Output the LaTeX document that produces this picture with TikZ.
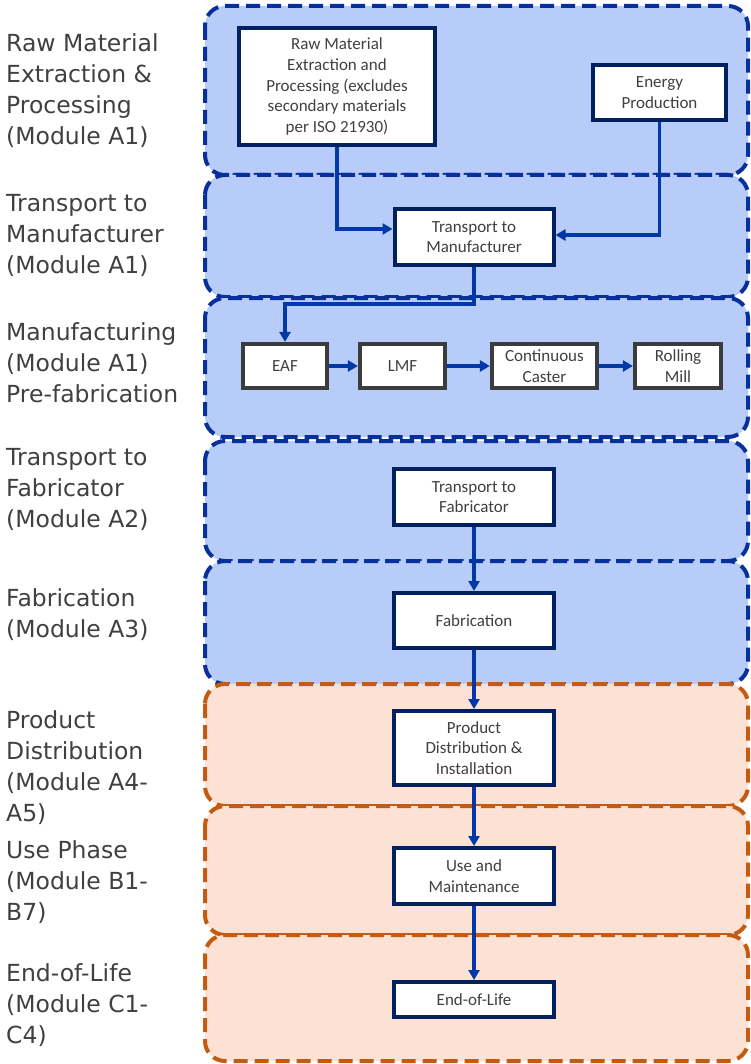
\documentclass[tikz,border=0pt]{standalone}
\usepackage{fontspec}
\usetikzlibrary{arrows.meta}
\newfontfamily\lblfont{DejaVu Sans}
\newfontfamily\bxfont{Carlito}
\definecolor{bandblue}{RGB}{184,204,250}
\definecolor{bandblueline}{RGB}{8,48,156}
\definecolor{bandorange}{RGB}{251,226,212}
\definecolor{bandorangeline}{RGB}{197,90,17}
\definecolor{navy}{RGB}{0,32,96}
\definecolor{boxgray}{RGB}{60,60,60}
\definecolor{arrowblue}{RGB}{0,56,168}
\definecolor{txtgray}{RGB}{64,64,64}
\begin{document}
\begin{tikzpicture}[x=1pt,y=-1pt,
  bandA/.style={fill=bandblue, draw=bandblueline, line width=4pt, dash pattern=on 14pt off 7pt, rounded corners=20pt},
  bandB/.style={fill=bandorange, draw=bandorangeline, line width=4pt, dash pattern=on 14pt off 7pt, rounded corners=20pt},
  stage/.style={draw=navy, fill=white, line width=4pt, font=\bxfont\fontsize{17}{20.7}\selectfont, text=txtgray, align=center, inner sep=0pt},
  mbox/.style={stage, draw=boxgray, line width=4.2pt},
  flow/.style={draw=arrowblue, line width=3.2pt, -{Triangle[length=10pt,width=11pt]}},
  lbl/.style={anchor=north west, inner sep=0pt, align=left, font=\lblfont\fontsize{23.5}{31.3}\selectfont, text=txtgray}]
\useasboundingbox (0,0) rectangle (751,1064);
\fill[white] (0,0) rectangle (751,1064);
% bands
\draw[bandA] (205,6) rectangle (748,175);
\draw[bandA] (205,175) rectangle (748,297);
\draw[bandA] (205,298) rectangle (748,437);
\draw[bandA] (205,441) rectangle (748,561);
\draw[bandA] (205,561) rectangle (748,684);
\draw[bandB] (205,684) rectangle (748,806);
\draw[bandB] (205,806) rectangle (748,935);
\draw[bandB] (205,935) rectangle (748,1061);
% labels
\node[lbl] (l1) at (6,33) {Raw Material\\Extraction \&\\Processing\\(Module A1)};
\node[lbl] (l2) at (6,194) {Transport to\\Manufacturer\\(Module A1)};
\node[lbl] (l3) at (6,322) {Manufacturing\\(Module A1)\\Pre-fabrication};
\node[lbl] (l4) at (6,448) {Transport to\\Fabricator\\(Module A2)};
\node[lbl] (l5) at (6,588) {Fabrication\\(Module A3)};
\node[lbl] (l6) at (6,710) {Product\\Distribution\\(Module A4-\\A5)};
\node[lbl] (l7) at (6,840) {Use Phase\\(Module B1-\\B7)};
\node[lbl] (l8) at (6,963) {End-of-Life\\(Module C1-\\C4)};
% stage boxes
\node[stage, minimum width=196pt, minimum height=117pt] (raw) at (337,86.5) {Raw Material\\Extraction and\\Processing (excludes\\secondary materials\\per ISO 21930)};
\node[stage, minimum width=133pt, minimum height=55pt] (energy) at (659.5,92.5) {Energy\\Production};
\node[stage, minimum width=159pt, minimum height=56pt] (tman) at (474,237) {Transport to\\Manufacturer};
\node[mbox, minimum width=84pt, minimum height=44pt] (eaf) at (285,366) {EAF};
\node[mbox, minimum width=85pt, minimum height=44pt] (lmf) at (402.5,366) {LMF};
\node[mbox, minimum width=105pt, minimum height=44pt] (cc) at (544.5,366) {Continuous\\Caster};
\node[mbox, minimum width=86pt, minimum height=44pt] (rm) at (678,366) {Rolling\\Mill};
\node[stage, minimum width=160pt, minimum height=56pt] (tfab) at (474,497) {Transport to\\Fabricator};
\node[stage, minimum width=160pt, minimum height=55pt] (fab) at (474,620.5) {Fabrication};
\node[stage, minimum width=160pt, minimum height=74pt] (prod) at (474,748) {Product\\Distribution \&\\Installation};
\node[stage, minimum width=160pt, minimum height=56pt] (use) at (474,876) {Use and\\Maintenance};
\node[stage, minimum width=160pt, minimum height=35pt] (eol) at (474,999.5) {End-of-Life};
% connectors
\draw[flow] (raw.south) |- ([yshift=8pt]tman.west);
\draw[flow] (energy.south) |- ([yshift=2pt]tman.east);
\draw[flow] (tman.south) -- ++(0,37) -| (eaf.north);
\draw[flow] (eaf.east) -- (lmf.west);
\draw[flow] (lmf.east) -- (cc.west);
\draw[flow] (cc.east) -- (rm.west);
\draw[flow] (tfab.south) -- (fab.north);
\draw[flow] (fab.south) -- (prod.north);
\draw[flow] (prod.south) -- (use.north);
\draw[flow] (use.south) -- (eol.north);
\end{tikzpicture}
\end{document}
